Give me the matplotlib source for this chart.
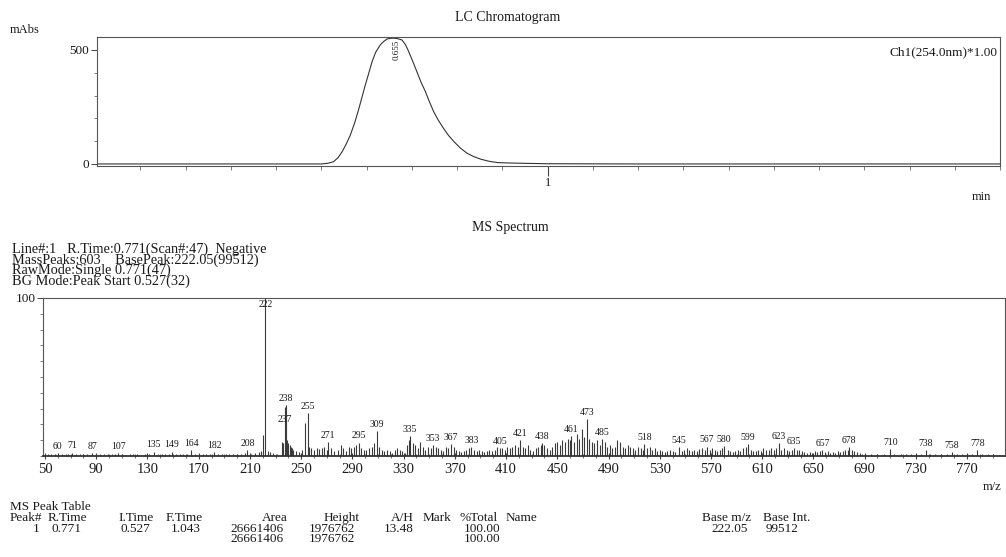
import matplotlib
matplotlib.use('Agg')
import matplotlib.pyplot as plt
from matplotlib.ticker import MultipleLocator, FixedLocator, FixedFormatter

# ---------------- data ----------------
lc_time = [0.0, 0.40, 0.50, 0.515, 0.527, 0.537, 0.546, 0.555, 0.564, 0.574, 0.583, 0.590,
           0.597, 0.605, 0.612, 0.620, 0.630, 0.638, 0.645, 0.652, 0.660, 0.668, 0.678,
           0.686, 0.693, 0.702, 0.711, 0.720, 0.730, 0.739, 0.748, 0.759, 0.770, 0.781,
           0.793, 0.807, 0.822, 0.837, 0.852, 0.870, 0.889, 0.910, 0.940, 0.970, 1.00,
           1.20, 1.60, 2.00]
lc_mabs = [0, 0, 0, 3, 10, 28, 54, 88, 127, 183, 244, 295,
           346, 400, 449, 490, 522, 538, 548, 551, 552, 550, 544,
           523, 493, 450, 405, 360, 317, 272, 230, 190, 156, 125,
           98, 70, 47, 32, 21, 12, 6, 4.5, 3, 2, 1,
           0, 0, 0]
lc_peak_label = "0.655"
lc_peak_time = 0.655

label_mz = [60, 71, 87, 107, 135, 149, 164, 182, 208, 222, 237, 238, 255, 271, 295, 309,
            335, 353, 367, 383, 405, 421, 438, 461, 473, 485, 518, 545, 567, 580, 599,
            623, 635, 657, 678, 710, 738, 758, 778]
label_int = [2.0, 2.2, 1.8, 2.0, 2.8, 2.8, 3.5, 2.5, 3.5, 100, 31, 32.5, 27, 9, 8.5, 16,
             12.5, 7, 7.5, 5.5, 5, 10, 8, 12.5, 23.5, 10.5, 7.5, 5.5, 6, 6.5, 7.5,
             8, 5, 3.5, 5.5, 4.5, 3.5, 2.5, 3.5]

low_mz = [52, 55, 58, 63, 66, 68, 74, 77, 80, 83, 90, 93, 96, 99, 102, 105, 110, 113, 116,
          119, 122, 125, 128, 131, 138, 141, 144, 147, 152, 155, 158, 161, 167, 170, 173,
          176, 179, 185, 188, 191, 194, 197, 200, 203, 206, 211, 214, 217, 219]
low_int = [1, 1.2, 1, 1.3, 1, 1.2, 1, 1.3, 1, 1.2, 1, 1.3, 1, 1.2, 1, 1.3, 1, 0.8, 1,
           1.2, 1, 0.8, 1, 1.2, 1, 1.3, 1, 1.2, 1, 1.5, 1, 1.3, 1.5, 1.2, 1,
           1.5, 1.2, 1, 1.3, 1, 1.5, 1.2, 1, 1.5, 2, 1.5, 2, 2.5, 3]

mid_mz = [220.5, 224, 226, 228, 231, 235, 236, 239, 240, 241, 242, 243, 244, 246, 248, 251,
          253, 256, 258, 260, 262, 264, 266, 268, 270, 273, 276, 279, 281, 283, 285, 287,
          289, 291, 293, 297, 299, 301, 303, 305, 307, 311, 313, 315, 317, 319, 321, 323,
          325, 327, 329, 331, 333, 334, 337, 339, 341, 343, 345, 347, 349, 351, 355, 357,
          359, 361, 363, 365, 369, 371, 373, 375, 377, 379, 381, 385, 387, 389, 391, 393,
          395, 397, 399, 401, 403, 407, 409, 411, 413, 415, 417, 419, 423, 425, 427, 429,
          431, 433, 435, 437, 440, 442, 444, 446, 448, 450, 452, 454, 456, 458, 460, 463,
          465, 467, 469, 471, 475, 477, 479, 481, 483, 487, 489, 491, 493, 495, 497, 499]
mid_int = [13, 3, 2.5, 2, 1.5, 9, 8, 10, 8, 7, 6, 5, 4, 3, 2.5, 4,
           21, 6, 5, 4, 5, 4.5, 5, 6, 4, 5, 3, 4, 7, 5, 3, 6,
           5, 6, 7, 5, 4, 4, 5, 6, 8, 6, 4, 3, 4, 3, 2, 4,
           5, 4, 3, 2, 7, 10, 8, 7, 5, 9, 6, 4, 6, 5, 6, 5,
           4, 3, 6, 5, 6, 4, 3, 2.5, 3, 4, 5, 4, 3, 4, 3, 2.5,
           3, 4, 3, 4, 6, 5, 4, 6, 5, 6, 7, 6, 6, 5, 7, 4,
           3, 5, 6, 7, 7, 5, 4, 6, 8, 9, 7, 10, 9, 11, 10, 9,
           14, 11, 17, 12, 11, 9, 8, 10, 7, 9, 6, 7, 5, 6, 10, 9]

high_mz = [501, 503, 505, 507, 509, 511, 513, 515, 517, 520, 522, 524, 526, 528, 530, 532,
           534, 536, 538, 540, 542, 547, 549, 551, 553, 555, 557, 559, 561, 563, 565, 569,
           571, 573, 575, 577, 579, 583, 585, 587, 589, 591, 593, 595, 597, 601, 603, 605,
           607, 609, 611, 613, 615, 617, 619, 621, 625, 627, 629, 631, 633, 637, 639, 641,
           643, 645, 647, 649, 651, 653, 655, 659, 661, 663, 665, 667, 669, 671, 673, 675,
           677, 680, 682, 684, 686, 688, 690, 695, 700, 705, 713, 718, 722, 726, 730, 734,
           741, 745, 750, 754, 762, 766, 770, 774, 782, 786, 790, 795]
high_int = [6, 5, 7, 6, 5, 4, 6, 5, 4, 5, 6, 4, 5, 3, 4, 3,
            2.5, 3, 4, 3, 2.5, 3, 4, 5, 3.5, 3, 4, 3, 4.5, 5, 3.5, 4,
            5, 4, 3, 4, 5, 4, 3, 2.5, 3, 4, 3, 5, 6, 4, 3, 3,
            4, 3, 5, 3.5, 4, 5, 4, 5, 4, 5, 4, 3, 4, 3.5, 4, 3,
            2.5, 2, 2.5, 2, 3, 2.5, 3, 2.5, 3, 2, 2.5, 2, 3, 2.5, 3, 4,
            3.5, 4, 3, 2.5, 2, 1.5, 1, 1, 1.2, 1, 1.2, 1, 1.5, 1, 1.3, 1.5,
            1, 1.2, 1, 1.5, 1.2, 1, 1.3, 1, 1, 1.2, 1, 0.8]

info_lines = ["Line#:1   R.Time:0.771(Scan#:47)  Negative",
              "MassPeaks:603    BasePeak:222.05(99512)",
              "RawMode:Single 0.771(47)",
              "BG Mode:Peak Start 0.527(32)"]

table_header = ["Peak#", "R.Time", "I.Time", "F.Time", "Area", "Height", "A/H", "Mark",
                "%Total", "Name", "Base m/z", "Base Int."]
table_row1 = ["1", "0.771", "0.527", "1.043", "26661406", "1976762", "13.48", "",
              "100.00", "", "222.05", "99512"]
table_row2 = ["", "", "", "", "26661406", "1976762", "", "", "100.00", "", "", ""]

# ---------------- layout helpers ----------------
W, H = 1006, 557
plt.rcParams['font.family'] = ['Liberation Serif', 'DejaVu Serif']
TXT = '#1a1a1a'
LN = '#333333'

fig = plt.figure(figsize=(W / 100, H / 100), dpi=100)


def box(l, t, r, b):
    return [l / W, 1 - b / H, (r - l) / W, (b - t) / H]


def ftext(x, y, s, **kw):
    kw.setdefault('color', TXT)
    kw.setdefault('va', 'center')
    return fig.text(x / W, 1 - y / H, s, **kw)


# ---------------- LC chromatogram ----------------
ax1 = fig.add_axes(box(97, 37, 1000, 166))
ax1.plot(lc_time, lc_mabs, color=LN, lw=0.8)
ax1.set_xlim(0.004, 2.0)
ax1.set_ylim(-9, 557)
for sp in ax1.spines.values():
    sp.set_color('#555555')
    sp.set_linewidth(0.8)
ax1.yaxis.set_major_locator(FixedLocator([0, 500]))
ax1.yaxis.set_minor_locator(MultipleLocator(100))
ax1.xaxis.set_major_locator(FixedLocator([1]))
ax1.xaxis.set_minor_locator(MultipleLocator(0.1))
ax1.xaxis.set_major_formatter(FixedFormatter(['1']))
ax1.tick_params(axis='y', which='major', length=4, width=0.7, color='#444', labelsize=9.5,
                pad=2, labelcolor=TXT)
ax1.tick_params(axis='y', which='minor', length=2, width=0.6, color='#666')
ax1.tick_params(axis='x', which='major', length=7, width=0.8, color='#444', labelsize=9,
                pad=1, labelcolor=TXT)
ax1.tick_params(axis='x', which='minor', length=3, width=0.6, color='#666')
ax1.annotate(lc_peak_label, (lc_peak_time, max(lc_mabs)), xytext=(1, -1),
             textcoords='offset points', rotation=90, ha='left', va='top',
             fontsize=6.5, color=TXT)
ax1.text(0.997, 0.88, "Ch1(254.0nm)*1.00", transform=ax1.transAxes, ha='right',
         va='center', fontsize=9.5, color=TXT)

ftext(508, 18, "LC Chromatogram", ha='center', fontsize=10)
ftext(10, 30, "mAbs", ha='left', fontsize=9)
ftext(991, 197, "min", ha='right', fontsize=9)

# ---------------- MS spectrum ----------------
ax2 = fig.add_axes(box(43, 298, 1005, 456))
all_mz = low_mz + label_mz + mid_mz + high_mz
all_int = low_int + label_int + mid_int + high_int
ax2.vlines(all_mz, 0, all_int, color='#3a3a3a', lw=0.8)
ax2.set_xlim(48.4, 799.6)
ax2.set_ylim(0, 100)
for sp in ax2.spines.values():
    sp.set_color('#555555')
    sp.set_linewidth(0.8)
ax2.spines['bottom'].set_linewidth(1.3)
ax2.spines['bottom'].set_color('#333333')
ax2.yaxis.set_major_locator(FixedLocator([100]))
ax2.yaxis.set_minor_locator(MultipleLocator(10))
ax2.xaxis.set_major_locator(MultipleLocator(40, offset=10))
ax2.xaxis.set_minor_locator(MultipleLocator(10))
ax2.tick_params(axis='y', which='major', length=4, width=0.7, color='#444', labelsize=9.5,
                pad=1, labelcolor=TXT)
ax2.tick_params(axis='y', which='minor', length=2.5, width=0.6, color='#666')
ax2.tick_params(axis='x', which='major', length=4, width=0.8, color='#444', labelsize=10.5,
                pad=3, labelcolor=TXT, direction='inout')
ax2.tick_params(axis='x', which='minor', length=3, width=0.6, color='#555', direction='inout')

for m, v in zip(label_mz, label_int):
    if m == 222:
        ax2.annotate(str(m), (m, v), xytext=(0, -1.5), textcoords='offset points',
                     ha='center', va='top', fontsize=7, color=TXT)
    elif m == 237:
        ax2.annotate(str(m), (m, v), xytext=(0, -12), textcoords='offset points',
                     ha='center', va='bottom', fontsize=7, color=TXT)
    else:
        ax2.annotate(str(m), (m, v), xytext=(0, 1.5), textcoords='offset points',
                     ha='center', va='bottom', fontsize=7, color=TXT)

ftext(510, 228, "MS Spectrum", ha='center', fontsize=10)
ftext(12, 243, "\n".join(info_lines), ha='left', va='top', fontsize=10.3,
      linespacing=0.71)
ftext(983, 487, "m/z", ha='left', fontsize=9)

# ---------------- MS peak table ----------------
ftext(10, 507, "MS Peak Table", ha='left', fontsize=9.5)
hdr_left = [10, 48, 118, 166, None, None, None, 423, 460, 506, 702, 763]
hdr_right = [None, None, None, None, 288, 360, 414, None, None, None, None, None]
col_right = [40, 82, 150, 201, 284, 355, 414, None, 500, None, 748, 798]
for j, h in enumerate(table_header):
    if hdr_left[j] is not None:
        ftext(hdr_left[j], 518, h, ha='left', fontsize=9.5)
    else:
        ftext(hdr_right[j], 518, h, ha='right', fontsize=9.5)
for row, y in ((table_row1, 529), (table_row2, 539)):
    for j, s in enumerate(row):
        if s:
            ftext(col_right[j], y, s, ha='right', fontsize=9.5)

fig.savefig('out.png', dpi=100)
